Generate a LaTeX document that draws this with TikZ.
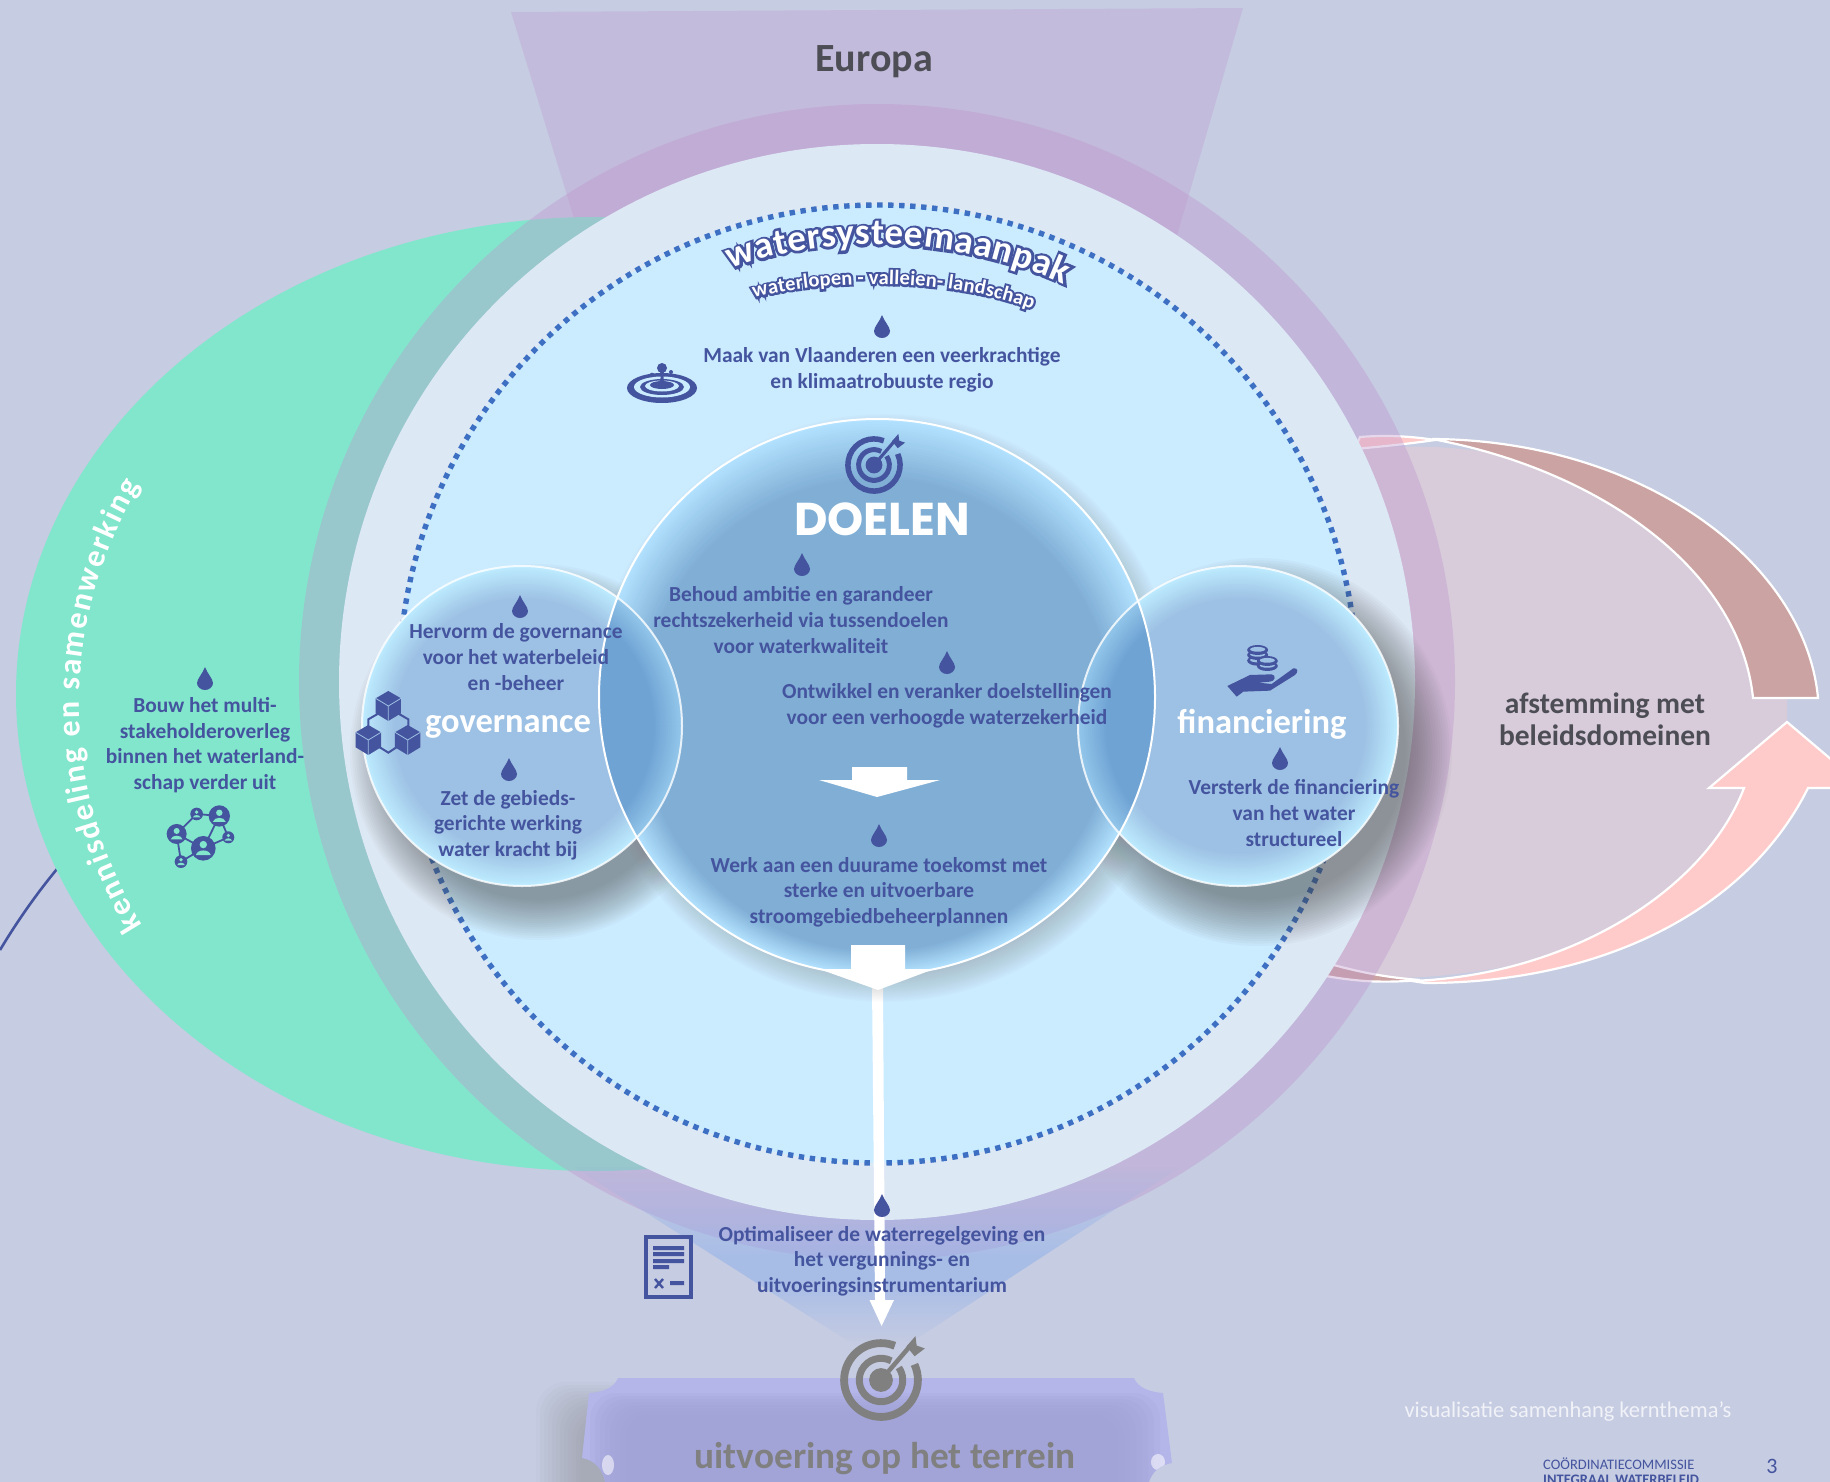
\documentclass[tikz,border=0pt]{standalone}
\usepackage{fontspec}
\setmainfont{Carlito}
\newfontfamily\popfont{Poppins}
\newfontfamily\halofont[BoldFont={Carlito Bold},BoldFeatures={FakeBold=14}]{Carlito}
\newfontfamily\halosmall[BoldFont={Carlito Bold},BoldFeatures={FakeBold=20}]{Carlito}
\usetikzlibrary{decorations.text}
\definecolor{bgc}{HTML}{C6CCE2}
\definecolor{tblue}{HTML}{44549E}
\definecolor{greenc}{HTML}{82E6CC}
\definecolor{ringc}{RGB}{190,150,205}
\definecolor{europe}{HTML}{C3BBDC}
\definecolor{palec}{HTML}{DDE8F5}
\definecolor{skyc}{HTML}{CBEBFF}
\definecolor{dotc}{HTML}{3D6FC2}
\definecolor{interior}{HTML}{D8CCDB}
\definecolor{arrowdark}{HTML}{CBA3A2}
\definecolor{arrowpink}{HTML}{FFCBCA}
\definecolor{tdark}{HTML}{4D4D55}
\definecolor{iconGrey}{HTML}{808080}
\definecolor{tick}{HTML}{B4B5E9}
\definecolor{tickin}{HTML}{A2A4D8}
\definecolor{wedgec}{RGB}{140,175,235}
\definecolor{dA}{HTML}{80AED5}
\definecolor{dC}{HTML}{B2E2FF}
\definecolor{sA}{HTML}{9DC1E4}
\definecolor{sC}{HTML}{BDEBFF}
\definecolor{lA}{HTML}{6FA3D3}
\definecolor{lC}{HTML}{93C6EA}
\tikzset{
 body/.style={font=\bfseries\fontsize{21.4}{25.6}\selectfont,text=tblue,align=center,inner sep=0pt},
 title/.style={font=\bfseries\fontsize{34.5}{40}\selectfont,text=white,inner sep=0pt},
 darklabel/.style={font=\bfseries\fontsize{29.5}{32}\selectfont,text=tdark,align=center,inner sep=0pt},
 iconfill/.style={fill=tblue,draw=none},
 edgewhite/.style={draw=white,line width=2.2pt,line join=miter}
}
\newcommand\dropmark[2]{\fill[tblue,shift={(#1,#2)}] (0,-12) .. controls (-2,-6) and (-8,0) .. (-8,4) .. controls (-8,8) and (-4,11) .. (0,11) .. controls (4,11) and (8,8) .. (8,4) .. controls (8,0) and (2,-6) .. (0,-12) -- cycle;}
% soft shadow: centre, radius, colour, opacity, reach
\newcommand\softshadow[6]{\foreach \k in {0,...,19}{\fill[#4,opacity=#5] (#1,#2) circle[radius=#3+#6-\k*(#6+12)/19];}}
% disc with a light rim: centre, radius, rim colour, core colour, steps, step, drift
\newcommand\rimdisc[8]{\foreach \k in {0,...,#6}{\pgfmathtruncatemacro\pct{100-100*\k/#6}\fill[#4!\pct!#5] (#1,{#2+#8*\k}) circle[radius=#3-#7*\k];}}
\newcommand\targeticon[4]{\begin{scope}[shift={(#1,#2)},x=#3pt,y=#3pt]
 \draw[#4,line width=#3*.19pt] (68:.9) arc[start angle=68,end angle=385,radius=.9];
 \draw[#4,line width=#3*.17pt] (62:.53) arc[start angle=62,end angle=395,radius=.53];
 \fill[#4] (0,0) circle[radius=.29];
 \draw[#4,line width=#3*.11pt] (0,0) -- (.72,.84);
 \fill[#4] (.62,.82) -- (.84,1.07) -- (.87,.84) -- (1.07,.77) -- (.82,.58) -- cycle;
\end{scope}}
\newcommand\cubeicon[2]{\begin{scope}[shift={(#1,#2)}]
 \fill[tblue] (0,-45) -- (38,-23) -- (38,22) -- (0,45) -- (-38,22) -- (-38,-23) -- cycle;
 \draw[sA,line width=.8pt] (-38,-23) -- (0,0) -- (38,-23) (0,0) -- (0,45);
\end{scope}}
\newcommand\netnode[3]{\fill[tblue] (#1,#2) circle[radius=#3];
 \fill[greenc] (#1,#2-.3*#3) circle[radius=.3*#3];
 \fill[greenc] (#1-.6*#3,#2+.55*#3) .. controls (#1-.5*#3,#2+.05*#3) and (#1+.5*#3,#2+.05*#3) .. (#1+.6*#3,#2+.55*#3) -- cycle;}
\begin{document}
\begin{tikzpicture}[x=1pt,y=-1pt]
\useasboundingbox (0,0) rectangle (1830,1482);
\clip (0,0) rectangle (1830,1482);
\fill[bgc] (0,0) rectangle (1830,1482);
% free line left
\draw[tblue,line width=2.6pt] (62,863) .. controls (35,895) and (15,925) .. (0,950);
% Europe wedge
\fill[europe] (511,12) -- (1243,8) -- (1110,467) -- (650,467) -- cycle;
% green ellipse
\fill[greenc] (595,694) ellipse[x radius=579pt,y radius=477pt];
% right pale region
\fill[interior] (1300,452) .. controls (1340,446) and (1390,446) .. (1435,447) .. controls (1600,455) and (1745,540) .. (1753,698) -- (1787,698) -- (1787,722) -- (1709,788) -- (1744,788) .. controls (1700,900) and (1590,972) .. (1400,978) .. controls (1360,978) and (1320,972) .. (1280,960) -- cycle;
% right arrows
\draw[edgewhite,fill=arrowpink] (1360,437) .. controls (1385,435) and (1410,436) .. (1435,440) .. controls (1400,445) and (1375,447) .. (1355,449) -- cycle;
\draw[edgewhite,fill=arrowdark] (1432,439) .. controls (1640,440) and (1805,560) .. (1818,698) -- (1753,698) .. controls (1740,570) and (1600,470) .. (1432,439) -- cycle;
\draw[edgewhite,fill=arrowdark] (1330,964) .. controls (1370,975) and (1395,978) .. (1420,980) .. controls (1385,983) and (1360,982) .. (1326,976) -- cycle;
\draw[edgewhite,fill=arrowpink] (1787,722) -- (1865,788) -- (1808,788) .. controls (1750,905) and (1610,983) .. (1425,983) -- (1412,981) .. controls (1570,975) and (1705,890) .. (1744,788) -- (1709,788) -- cycle;
% purple ring
\fill[ringc,opacity=.38] (877,682) circle[radius=578pt];
% bottom wedge: horizontal bands of changing strength
\begin{scope}
\clip (574,1167) -- (1180,1167) -- (881,1362) -- cycle;
\foreach \yy in {1167,1170,...,1359}{
 \pgfmathsetmacro\aa{max(0,min(.05+(\yy-1167)*.0052,min(.5,(1345-\yy)/130)))}
 \fill[wedgec,opacity=\aa] (560,\yy) rectangle (1200,\yy+3);}
\end{scope}
% pale disc and dotted water system
\fill[palec] (877,682) circle[radius=538pt];
\fill[skyc] (878,684) circle[radius=479pt];
\draw[dotc,line width=5.4pt,dash pattern=on 5.4pt off 5.6pt] (878,684) circle[radius=479pt];
% long white arrow
\fill[white] (872,985) -- (883,985) -- (885,1300) -- (894,1300) -- (881.6,1326) -- (869.5,1300) -- (875,1300) -- cycle;
% shadows
\softshadow{538}{752}{160}{black!70}{.032}{28}
\softshadow{1258}{752}{160}{black!70}{.034}{34}
\softshadow{885}{708}{278}{black!45}{.022}{16}
% side discs
\rimdisc{522}{726}{160}{sC}{sA}{16}{2}{0}
\rimdisc{1238}{726}{160}{sC}{sA}{16}{2}{0}
% doelen disc
\rimdisc{877}{697}{278}{dC}{dA}{22}{1.9}{.8}
% lens overlaps
\begin{scope}\clip (877,697) circle[radius=278pt];
 \rimdisc{522}{726}{160}{lC}{lA}{14}{2}{0}
 \rimdisc{1238}{726}{160}{lC}{lA}{14}{2}{0}
\end{scope}
\draw[white,line width=2pt] (877,697) circle[radius=278pt];
\draw[white,opacity=.8,line width=2pt] (522,726) circle[radius=160pt];
\draw[white,opacity=.8,line width=2pt] (1238,726) circle[radius=160pt];
% block arrows
\fill[white] (852,767) -- (907,767) -- (907,780) -- (940,780) -- (877,797) -- (819,780) -- (852,780) -- cycle;
\fill[white] (851,945) -- (905,945) -- (905,969) -- (934,969) -- (878,990) -- (819,969) -- (851,969) -- cycle;
% ticket
\foreach \k in {0,...,11}{\fill[black!50,opacity=.04,rounded corners=30pt] ({536+4*\k},{1382+3*\k}) rectangle (1100,1540);}
\begin{scope}
\clip (618,1378) -- (1134,1378) .. controls (1138,1388) and (1150,1392) .. (1163,1393) -- (1172,1463) .. controls (1160,1465) and (1152,1472) .. (1149,1482) -- (605,1482) .. controls (603,1470) and (595,1460) .. (582,1458) -- (589,1393) .. controls (603,1392) and (614,1388) .. (618,1378) -- cycle;
\fill[tick] (560,1370) rectangle (1190,1482);
\foreach \k in {0,...,9}{\fill[tickin,opacity=.22,rounded corners=26pt] ({590+5*\k},{1393+3*\k}) rectangle ({1160-6*\k},1530);}
\fill[white,opacity=.55] (608,1465) ellipse[x radius=6pt,y radius=10pt];
\fill[white,opacity=.55] (1158,1462) ellipse[x radius=7pt,y radius=8pt];
\end{scope}
% icons
\targeticon{881}{1380}{41}{iconGrey}
\targeticon{874}{465}{29}{tblue}
% ripple icon
\begin{scope}[shift={(662,388)}]
 \fill[tblue] (0,0) ellipse[x radius=35pt,y radius=15pt];
 \fill[skyc] (0,-1) ellipse[x radius=28pt,y radius=10.5pt];
 \fill[tblue] (0,-1) ellipse[x radius=22pt,y radius=8pt];
 \fill[skyc] (0,-2) ellipse[x radius=17pt,y radius=5.5pt];
 \fill[tblue] (0,-3) ellipse[x radius=12pt,y radius=4pt];
 \fill[tblue] (-4,-3) .. controls (-1,-8) and (-1,-12) .. (-2,-17) -- (2,-17) .. controls (1,-12) and (1,-8) .. (4,-3) -- cycle;
 \fill[tblue] (0,-20) circle[radius=5pt];
 \fill[tblue] (-10,-13) circle[radius=2.3pt];
 \fill[tblue] (9,-16) circle[radius=2pt];
\end{scope}
% cubes icon
\begin{scope}[shift={(340,560)},x=.3333pt,y=-.3333pt]
 \cubeicon{145}{438}\cubeicon{85}{540}\cubeicon{203}{540}
 \draw[tblue,line width=2pt] (125,455) -- (85,478) -- (85,505) (165,455) -- (205,478) -- (205,505) (105,553) -- (145,578) -- (183,553);
\end{scope}
% hand and coins
\begin{scope}[shift={(1080,560)},x=.3333pt,y=-.3333pt]
 \fill[tblue] (442,378) -- (510,345) -- (575,343) .. controls (590,345) and (585,365) .. (570,365) -- (535,368) -- (575,372) -- (640,325) .. controls (655,322) and (655,338) .. (645,345) -- (570,392) -- (490,395) -- (470,410) -- cycle;
 \foreach \cx/\cy in {533/302,533/285,533/270,562/318,562/303}{
  \fill[tblue] (\cx,\cy) ellipse[x radius=10.5pt,y radius=5pt];
  \fill[sA] (\cx,\cy-2) ellipse[x radius=7.5pt,y radius=2.4pt];}
\end{scope}
% network icon
\begin{scope}[shift={(0,460)},x=.3333pt,y=-.3333pt]
 \draw[tblue,line width=1.8pt] (530,1122) -- (590,1062) -- (658,1068) -- (685,1132) -- (610,1165) -- (530,1122) -- (543,1205) -- (610,1165) -- (658,1068);
 \netnode{530}{1122}{30}\netnode{590}{1062}{19}\netnode{658}{1068}{32}\netnode{685}{1132}{18}\netnode{610}{1165}{37}\netnode{543}{1205}{19}
\end{scope}
% doc icon
\draw[tblue,line width=4pt] (646,1237) rectangle (691,1297);
\fill[tblue] (653,1246) rectangle (684,1250) (653,1252) rectangle (684,1256) (653,1259) rectangle (684,1263) (653,1265) rectangle (669,1269) (670,1281) rectangle (684,1285);
\draw[tblue,line width=2.4pt] (655,1279) -- (663,1288) (663,1279) -- (655,1288);
% drops
\dropmark{882}{327}\dropmark{520}{607}\dropmark{509}{770}
\dropmark{802}{565}\dropmark{947}{663}\dropmark{879}{836}
\dropmark{1280}{759}\dropmark{205}{679}\dropmark{882}{1206}
% curved lettering
\path[decorate,decoration={text along path,text align={fit to path},text={|\halofont\bfseries\fontsize{37}{38}\selectfont\color{tblue}|watersysteemaanpak}}] (731,269) .. controls (822,233) and (958,236) .. (1064,284);
\path[decorate,decoration={text along path,text align={fit to path},text={|\bfseries\fontsize{37}{38}\selectfont\color{white}|watersysteemaanpak}}] (731,269) .. controls (822,233) and (958,236) .. (1064,284);
\path[decorate,decoration={text along path,text align={fit to path},text={|\halosmall\bfseries\fontsize{20.5}{21}\selectfont\color{tblue}|waterlopen - valleien- landschap}}] (754,298) .. controls (830,278) and (950,278) .. (1032,309);
\path[decorate,decoration={text along path,text align={fit to path},text={|\bfseries\fontsize{20.5}{21}\selectfont\color{white}|waterlopen - valleien- landschap}}] (754,298) .. controls (830,278) and (950,278) .. (1032,309);
\path[decorate,decoration={text along path,text align={fit to path},text={|\bfseries\fontsize{32}{32}\selectfont\color{white}|kennisdeling en samenwerking}}] (143,925) .. controls (70,810) and (48,640) .. (140,486);
% labels
\node[font=\bfseries\fontsize{40}{44}\selectfont,text=tdark,inner sep=0pt] (europa) at (874,62) {Europa};
\node[body] (maak) at (882,370) {Maak van Vlaanderen een veerkrachtige\\en klimaatrobuuste regio};
\node[font=\popfont\bfseries\fontsize{46}{48}\selectfont,text=white,inner sep=0pt] (doelen) at (882,519) {DOELEN};
\node[body] (behoud) at (801,620) {Behoud ambitie en garandeer\\rechtszekerheid via tussendoelen\\voor waterkwaliteit};
\node[body] (ontw) at (947,706) {Ontwikkel en veranker doelstellingen\\voor een verhoogde waterzekerheid};
\node[body] (werk) at (879,892) {Werk aan een duurame toekomst met\\sterke en uitvoerbare\\stroomgebiedbeheerplannen};
\node[body] (herv) at (516,657) {Hervorm de governance\\voor het waterbeleid\\ en -beheer};
\node[title] (gov) at (508,727) {governance};
\node[body] (zet) at (508,825) {Zet de gebieds-\\gerichte werking\\water kracht bij};
\node[title] (fin) at (1262,724) {financiering};
\node[body] (vers) at (1294,813) {Versterk de financiering\\van het water\\structureel};
\node[body] (bouw) at (205,745) {Bouw het multi-\\stakeholderoverleg\\binnen het waterland-\\schap verder uit};
\node[body] (opti) at (882,1261) {Optimaliseer de waterregelgeving en\\het vergunnings- en\\uitvoeringsinstrumentarium};
\node[darklabel] (afst) at (1605,719) {afstemming met\\beleidsdomeinen};
\node[font=\bfseries\fontsize{37.3}{40}\selectfont,text=iconGrey,inner sep=0pt] (terrein) at (885,1459) {uitvoering op het terrein};
\node[font=\fontsize{22.4}{25}\selectfont,text=white,opacity=.75,inner sep=0pt] (vis) at (1568,1412) {visualisatie samenhang kernthema’s};
\node[font=\fontsize{14.5}{14.5}\selectfont,text=tblue,align=left,inner sep=0pt,anchor=west] (ciw) at (1543,1471) {COÖRDINATIECOMMISSIE\\\textbf{INTEGRAAL WATERBELEID}};
\node[font=\fontsize{22}{25}\selectfont,text=tblue,inner sep=0pt] (pnum) at (1772,1466) {3};
\end{tikzpicture}
\end{document}
